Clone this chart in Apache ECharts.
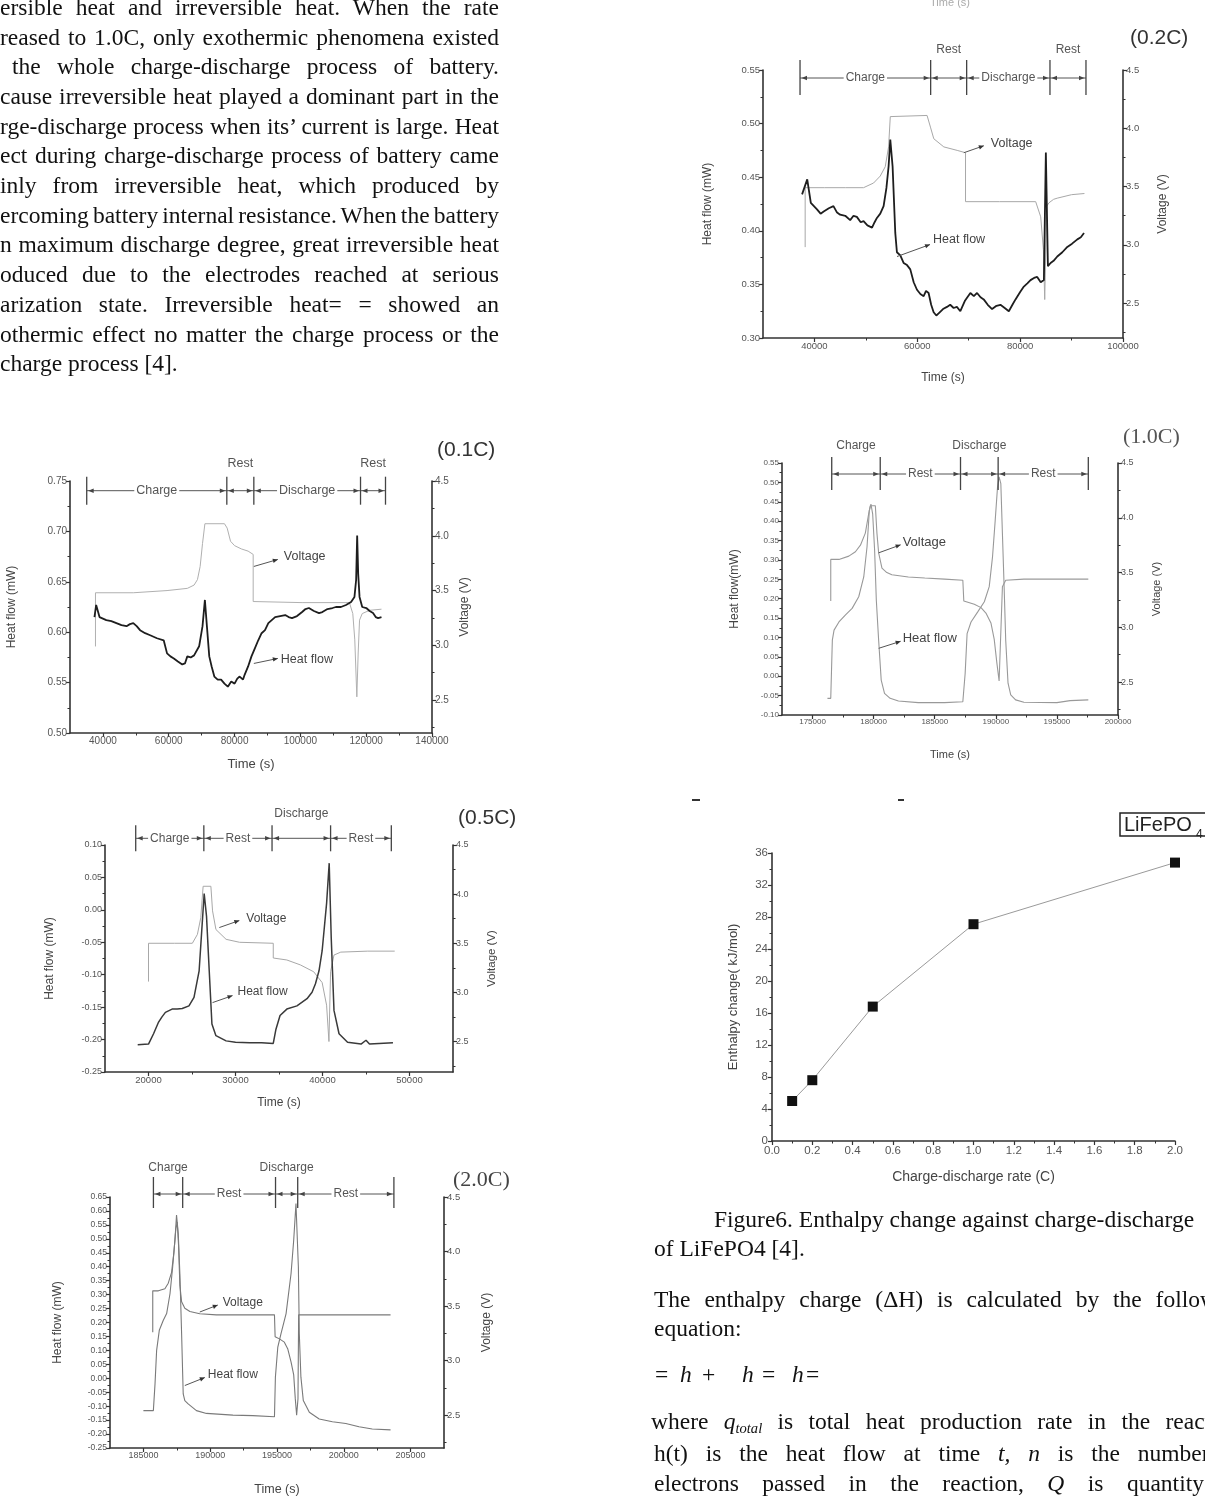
<!DOCTYPE html>
<html>
<head>
<meta charset="utf-8">
<title>Heat flow during charge-discharge and enthalpy change of LiFePO4</title>
<script src="https://cdn.jsdelivr.net/npm/echarts@6.0.0/dist/echarts.min.js"></script>
<style>
html,body{margin:0;padding:0;background:#fff;}
body{width:1205px;height:1497px;overflow:hidden;position:relative;}
#chart{position:absolute;left:0;top:0;width:1205px;height:1497px;}
.ln{position:absolute;white-space:pre;font-family:"Liberation Serif","Times New Roman",serif;font-size:23.5px;line-height:23.5px;color:#111;}
.ln sub{font-size:0.62em;vertical-align:-0.28em;line-height:0;}
</style>
</head>
<body>
<div id="chart"></div>
<script>
// ======================= DATA =======================
// (0.2C)  [time s, value]
const heat02 = [[37600,0.434],[38600,0.448],[39300,0.426],[40500,0.420],[41200,0.416],[41800,0.418],[42800,0.421],[43700,0.423],[44400,0.417],[45000,0.415],[46000,0.414],[46950,0.410],[47600,0.414],[48250,0.413],[49000,0.408],[49550,0.409],[50300,0.405],[51200,0.403],[51700,0.408],[52150,0.412],[52800,0.416],[53450,0.423],[54000,0.440],[54420,0.460],[54750,0.485],[55200,0.460],[55720,0.398],[56040,0.380],[56700,0.377],[57340,0.370],[58000,0.368],[58640,0.364],[59300,0.352],[59940,0.345],[60600,0.341],[61240,0.339],[61700,0.344],[62200,0.342],[62700,0.331],[63180,0.324],[63700,0.321],[64150,0.323],[65000,0.327],[65770,0.329],[66400,0.331],[67070,0.328],[67700,0.329],[68370,0.325],[69300,0.335],[70320,0.342],[71000,0.339],[71620,0.342],[72300,0.338],[72920,0.336],[73700,0.331],[74550,0.327],[75400,0.330],[76170,0.331],[77000,0.328],[77800,0.325],[78500,0.331],[79100,0.336],[80000,0.343],[80720,0.348],[81400,0.351],[82020,0.354],[82700,0.356],[83320,0.357],[84000,0.352],[84620,0.354],[85000,0.473],[85400,0.367],[85920,0.370],[86500,0.372],[87220,0.376],[88200,0.380],[89170,0.385],[90100,0.388],[91120,0.392],[91800,0.394],[92420,0.398]];
const volt02 = [[38200,2.98],[38200,3.49],[42000,3.49],[46000,3.49],[49550,3.49],[51500,3.53],[52800,3.59],[53770,3.67],[54420,3.84],[54750,4.10],[54900,4.11],[61900,4.11],[62560,4.01],[63210,3.91],[65160,3.84],[67760,3.81],[69380,3.79],[69380,3.37],[76000,3.37],[83020,3.37],[84000,3.24],[84520,2.96],[84780,2.53],[85160,3.33],[85600,3.36],[86500,3.39],[87200,3.40],[90000,3.43],[92500,3.44]];
const phase02 = [37200, 62600, 69600, 85800, 92800];
const phaseName02 = ['Charge', 'Rest', 'Discharge', 'Rest'];
const xTick02 = [40000, 60000, 80000, 100000];
const xMinor02 = [50000, 70000, 90000];
const hTick02 = [0.30, 0.35, 0.40, 0.45, 0.50, 0.55];

// (0.1C)
const heat01 = [[37435,0.615],[37950,0.627],[38970,0.615],[41030,0.612],[42560,0.611],[44100,0.609],[45640,0.607],[47180,0.606],[48210,0.608],[49230,0.609],[50260,0.606],[51290,0.602],[52830,0.599],[54360,0.597],[56420,0.594],[58470,0.592],[59490,0.579],[60520,0.576],[61550,0.574],[62780,0.571],[64110,0.568],[64930,0.569],[65650,0.576],[66680,0.575],[67700,0.577],[69240,0.586],[70270,0.606],[70990,0.632],[71600,0.606],[72320,0.576],[73040,0.566],[73860,0.556],[74880,0.553],[75910,0.553],[76940,0.549],[77960,0.546],[78990,0.551],[80010,0.549],[80830,0.554],[81550,0.556],[82580,0.553],[83090,0.558],[84120,0.566],[85140,0.576],[86170,0.584],[87200,0.592],[88220,0.599],[89250,0.602],[90270,0.609],[91300,0.612],[92330,0.615],[93870,0.616],[95400,0.617],[96430,0.615],[97460,0.614],[98990,0.616],[100530,0.620],[101560,0.623],[102590,0.624],[104120,0.621],[105660,0.619],[106690,0.620],[108230,0.623],[109770,0.624],[110790,0.625],[112330,0.625],[113870,0.627],[115410,0.630],[116440,0.635],[116950,0.652],[117260,0.696],[117570,0.658],[117980,0.635],[118800,0.625],[120030,0.624],[121050,0.621],[122080,0.619],[122900,0.615],[123620,0.614],[124650,0.615]];
const volt01 = [[37740,2.99],[37740,3.48],[49230,3.48],[59490,3.50],[65650,3.52],[67700,3.55],[68730,3.60],[69550,3.72],[70270,3.93],[70990,4.11],[76940,4.11],[77760,4.07],[78780,3.95],[80010,3.91],[82070,3.88],[84120,3.86],[85660,3.83],[85660,3.40],[100530,3.39],[114900,3.39],[115930,3.29],[116540,3.05],[117160,2.53],[117570,2.93],[117980,3.23],[118800,3.29],[121050,3.32],[124650,3.33]];
const phase01 = [35080, 77650, 85860, 118280, 125870];
const phaseName01 = ['Charge', 'Rest', 'Discharge', 'Rest'];
const xTick01 = [40000, 60000, 80000, 100000, 120000, 140000];
const xMinor01 = [50000, 70000, 90000, 110000, 130000];
const hTick01 = [0.50, 0.55, 0.60, 0.65, 0.70, 0.75];

// (1.0C)
const heat10 = [[176220,-0.057],[176490,-0.057],[176620,0.093],[176760,0.119],[177160,0.140],[177700,0.158],[178240,0.175],[178780,0.205],[179190,0.256],[179460,0.334],[179650,0.428],[179780,0.444],[179920,0.419],[180080,0.325],[180220,0.196],[180410,0.093],[180620,-0.010],[180890,-0.044],[181350,-0.057],[182030,-0.064],[183650,-0.068],[185810,-0.068],[187300,-0.066],[187490,0.007],[187650,0.110],[187970,0.140],[188520,0.166],[189060,0.192],[189460,0.231],[189730,0.308],[189950,0.402],[190140,0.488],[190270,0.514],[190410,0.497],[190540,0.368],[190680,0.231],[190810,0.093],[191000,-0.018],[191220,-0.048],[191620,-0.061],[192300,-0.067],[195000,-0.068],[196080,-0.063],[197570,-0.061]];
const volt10 = [[176490,3.24],[176490,3.62],[177160,3.62],[177970,3.65],[178510,3.69],[178920,3.75],[179320,3.86],[179600,4.04],[179730,4.11],[180140,4.11],[180270,3.86],[180410,3.68],[180680,3.54],[181080,3.50],[181490,3.48],[182840,3.46],[184190,3.45],[185810,3.44],[187300,3.43],[187380,3.24],[188240,3.21],[188790,3.18],[189190,3.13],[189600,3.04],[189870,2.89],[190080,2.68],[190270,2.51],[190540,3.37],[190810,3.43],[192300,3.44],[195000,3.44],[197570,3.44]];
const phase10 = [176570, 180540, 187110, 190190, 197570];
const phaseName10 = ['Charge', 'Rest', 'Discharge', 'Rest'];
const xTick10 = [175000, 180000, 185000, 190000, 195000, 200000];
const xMinor10 = [177500, 182500, 187500, 192500, 197500];
const hTick10 = [-0.10, -0.05, 0.00, 0.05, 0.10, 0.15, 0.20, 0.25, 0.30, 0.35, 0.40, 0.45, 0.50, 0.55];

// (0.5C)
const heat05 = [[18760,-0.208],[20000,-0.207],[20580,-0.191],[21160,-0.173],[21550,-0.165],[21940,-0.158],[22710,-0.153],[23300,-0.153],[23880,-0.152],[24650,-0.148],[25230,-0.135],[25820,-0.094],[26120,-0.032],[26400,0.025],[26670,-0.010],[26980,-0.094],[27290,-0.176],[27750,-0.194],[28920,-0.202],[30000,-0.204],[31630,-0.205],[33000,-0.205],[34340,-0.206],[34650,-0.184],[35120,-0.163],[35900,-0.153],[37060,-0.148],[38220,-0.137],[38800,-0.127],[39190,-0.114],[39600,-0.094],[39960,-0.063],[40470,0.010],[40770,0.072],[41000,-0.042],[41320,-0.155],[41900,-0.191],[42880,-0.204],[44430,-0.207],[45000,-0.201],[45400,-0.207],[46500,-0.206],[48100,-0.205]];
const volt05 = [[20000,3.11],[20000,3.50],[23000,3.50],[25040,3.50],[25620,3.59],[26010,3.76],[26280,4.08],[27170,4.08],[27360,3.83],[27750,3.64],[28920,3.54],[30470,3.51],[34340,3.50],[34340,3.35],[35900,3.33],[37450,3.28],[38990,3.21],[39960,3.10],[40470,2.87],[40740,2.50],[40930,3.21],[41320,3.38],[42100,3.41],[45200,3.42],[48300,3.42]];
const phase05 = [18530, 26360, 34200, 40930, 47910];
const phaseName05 = ['Charge', 'Rest', 'Discharge', 'Rest'];
const xTick05 = [20000, 30000, 40000, 50000];
const xMinor05 = [25000, 35000, 45000];
const hTick05 = [-0.25, -0.20, -0.15, -0.10, -0.05, 0.00, 0.05, 0.10];

// (2.0C)
const heat20 = [[185000,-0.116],[185745,-0.116],[185870,-0.020],[185990,0.100],[186190,0.172],[186490,0.208],[186740,0.232],[186990,0.303],[187190,0.399],[187360,0.495],[187480,0.585],[187610,0.519],[187730,0.375],[187860,0.160],[187980,-0.056],[188100,-0.080],[188350,-0.092],[188970,-0.116],[189720,-0.126],[191700,-0.132],[193190,-0.134],[194810,-0.138],[194880,0.004],[195060,0.112],[195300,0.160],[195680,0.232],[196050,0.375],[196250,0.495],[196420,0.627],[196500,0.633],[196600,0.399],[196670,0.160],[196790,0.004],[196970,-0.080],[197420,-0.122],[198160,-0.146],[199150,-0.156],[200150,-0.162],[201140,-0.174],[202130,-0.182],[203500,-0.185]];
const volt20 = [[185700,3.26],[185700,3.64],[186120,3.64],[186610,3.66],[186860,3.71],[187110,3.81],[187280,3.99],[187430,4.21],[187530,4.27],[187630,4.06],[187730,3.69],[187860,3.54],[188100,3.48],[188480,3.45],[189220,3.43],[190460,3.42],[194810,3.42],[194860,3.22],[195180,3.20],[195550,3.17],[195800,3.11],[196050,2.99],[196250,2.87],[196370,2.65],[196470,2.50],[196570,2.65],[196620,3.42],[197170,3.42],[203500,3.42]];
const phase20 = [185750, 187940, 194890, 196550, 203750];
const phaseName20 = ['Charge', 'Rest', 'Discharge', 'Rest'];
const xTick20 = [185000, 190000, 195000, 200000, 205000];
const xMinor20 = [187500, 192500, 197500, 202500];
const hTick20 = [-0.25, -0.20, -0.15, -0.10, -0.05, 0.00, 0.05, 0.10, 0.15, 0.20, 0.25, 0.30, 0.35, 0.40, 0.45, 0.50, 0.55, 0.60, 0.65];

// voltage axis ticks (shared)
const vTick = [2.5, 3.0, 3.5, 4.0, 4.5];
const vMinor = [2.25, 2.75, 3.25, 3.75, 4.25];

// Enthalpy change vs rate
const rateC = [0.1, 0.2, 0.5, 1.0, 2.0];
const dH = [5.0, 7.6, 16.8, 27.1, 34.8];
const rateTick = [0, 0.2, 0.4, 0.6, 0.8, 1.0, 1.2, 1.4, 1.6, 1.8, 2.0];
const rateMinor = [0.1, 0.3, 0.5, 0.7, 0.9, 1.1, 1.3, 1.5, 1.7, 1.9];
const dHTick = [0, 4, 8, 12, 16, 20, 24, 28, 32, 36];
const dHMinor = [2, 6, 10, 14, 18, 22, 26, 30, 34];

// ======================= BUILD =======================
const SANS = '"Liberation Sans", Arial, sans-serif';
const SERIF = '"Liberation Serif", "Times New Roman", serif';
const AXC = '#333', LAB = '#555';
function mids(a){ const r=[]; for(let i=0;i<a.length-1;i++) r.push(+((a[i]+a[i+1])/2).toFixed(4)); return r; }
const pairs = (xs, ys) => xs.map((x, i) => [x, ys[i]]);

const grids = [], xAxis = [], yAxis = [], series = [], graphic = [];

function mkAxis(list, gi, pos, s) {
  const idx = list.length;
  const isX = (list === xAxis);
  const base = {type:'value', gridIndex:gi, position:pos, min:s.min, max:s.max, splitLine:{show:false}, splitArea:{show:false}};
  const a = Object.assign({}, base, {
    axisLine:{show:true, onZero:false, lineStyle:{color:AXC, width:1.6}},
    axisTick:{show:true, inside:false, customValues:s.labels, length:4, lineStyle:{color:AXC, width:1.2}},
    axisLabel:{show:true, customValues:s.labels, margin:(s.margin==null?3:s.margin), fontSize:s.fs, fontFamily:SANS, color:LAB,
      formatter: v => s.dec == null ? String(Math.round(v)) : Number(v).toFixed(s.dec)},
    name:s.name, nameLocation:'middle', nameGap:s.gap,
    nameTextStyle:{fontSize:s.nfs, fontFamily:SANS, color:'#444'}
  });
  if (!isX) a.nameRotate = 90;
  list.push(a);
  if (s.minor && s.minor.length) {
    list.push(Object.assign({}, base, {
      axisLine:{show:false, onZero:false}, axisLabel:{show:false},
      axisTick:{show:true, inside:false, customValues:s.minor, length:2.5, lineStyle:{color:AXC, width:1}}
    }));
  }
  return idx;
}

function bracketSeries(xi, yi, c) {
  const segs = [];
  for (let i = 0; i < c.phases.length - 1; i++) segs.push([c.phases[i], c.phases[i + 1]]);
  const b = c.brk, ymax = c.yl.max;
  return {
    type:'custom', xAxisIndex:xi, yAxisIndex:yi, clip:false, silent:true, z:5, animation:false,
    data:segs,
    renderItem(params, api) {
      const i = params.dataIndex;
      const p0 = api.coord([api.value(0), ymax]);
      const p1 = api.coord([api.value(1), ymax]);
      const y = p0[1] + b.dy, x0 = p0[0], x1 = p1[0];
      const col = '#555';
      const ch = [
        {type:'line', shape:{x1:x0, y1:y, x2:x1, y2:y}, style:{stroke:col, lineWidth:1}},
        {type:'line', shape:{x1:x0, y1:y - b.up, x2:x0, y2:y + b.down}, style:{stroke:'#444', lineWidth:1.3}},
        {type:'polygon', shape:{points:[[x0 + 1.5, y], [x0 + 7, y - 2.2], [x0 + 7, y + 2.2]]}, style:{fill:'#444'}},
        {type:'polygon', shape:{points:[[x1 - 1.5, y], [x1 - 7, y - 2.2], [x1 - 7, y + 2.2]]}, style:{fill:'#444'}}
      ];
      if (i === segs.length - 1) ch.push({type:'line', shape:{x1:x1, y1:y - b.up, x2:x1, y2:y + b.down}, style:{stroke:'#444', lineWidth:1.3}});
      const name = c.names[i], mode = c.modes[i];
      if (name) {
        const onLine = mode === 'on';
        ch.push({type:'text', x:(x0 + x1) / 2, y: onLine ? y : y - b.above, z2:10,
          style:{text:name, font: b.fs + 'px ' + SANS, fill:'#555', align:'center', verticalAlign:'middle',
            textAlign:'center', textVerticalAlign:'middle',
            backgroundColor: onLine ? '#fff' : null, padding: onLine ? [0, 2] : 0}});
      }
      return {type:'group', children:ch};
    }
  };
}

function noteSeries(xi, yi, n, fs) {
  return {
    type:'custom', xAxisIndex:xi, yAxisIndex:yi, clip:false, silent:true, z:6, animation:false,
    data:[n.at],
    renderItem(params, api) {
      const p = api.coord([api.value(0), api.value(1)]);
      const ex = p[0] + n.dx, ey = p[1] + n.dy;
      const ang = Math.atan2(ey - p[1], ex - p[0]);
      const bx = ex - 5 * Math.cos(ang), by = ey - 5 * Math.sin(ang);
      const nx = -Math.sin(ang) * 2.2, ny = Math.cos(ang) * 2.2;
      return {type:'group', children:[
        {type:'line', shape:{x1:p[0], y1:p[1], x2:ex, y2:ey}, style:{stroke:'#555', lineWidth:1}},
        {type:'polygon', shape:{points:[[ex, ey], [bx + nx, by + ny], [bx - nx, by - ny]]}, style:{fill:'#333'}},
        {type:'text', x:ex + n.tx, y:ey + n.ty, style:{text:n.text, font: fs + 'px ' + SANS, fill:'#444',
          align:'left', verticalAlign:'middle', textAlign:'left', textVerticalAlign:'middle'}}
      ]};
    }
  };
}

function dualChart(c) {
  const gi = grids.length;
  grids.push(Object.assign({containLabel:false, outerBoundsMode:'none'}, c.grid));
  const xi = mkAxis(xAxis, gi, 'bottom', c.x);
  const yl = mkAxis(yAxis, gi, 'left', c.yl);
  const yr = mkAxis(yAxis, gi, 'right', c.yr);
  series.push({type:'line', name:'Heat flow', xAxisIndex:xi, yAxisIndex:yl, data:c.heat, symbol:'none', showSymbol:false,
    lineStyle:{color:c.hc, width:c.hw}, z:3, silent:true, animation:false, emphasis:{disabled:true}});
  series.push({type:'line', name:'Voltage', xAxisIndex:xi, yAxisIndex:yr, data:c.volt, symbol:'none', showSymbol:false,
    lineStyle:{color:c.vc, width:c.vw}, z:2, silent:true, animation:false, emphasis:{disabled:true}});
  series.push(bracketSeries(xi, yl, c));
  c.notes.forEach(n => series.push(noteSeries(xi, n.axis === 'l' ? yl : yr, n, c.nfs)));
  graphic.push({type:'text', x:c.title.x, y:c.title.y, style:{text:c.title.text, font:c.title.font, fill:c.title.fill,
    verticalAlign:'middle', textVerticalAlign:'middle'}});
}

// ---------------- (0.2C) ----------------
dualChart({
  grid:{left:763, top:70, width:360, height:268},
  x:{min:30000, max:100000, labels:xTick02, minor:xMinor02, fs:9.5, name:'Time (s)', gap:34, nfs:12},
  yl:{min:0.30, max:0.55, labels:hTick02, minor:mids(hTick02), dec:2, fs:9.5, name:'Heat flow (mW)', gap:49, nfs:12},
  yr:{min:2.2, max:4.5, labels:vTick, minor:vMinor, dec:1, fs:9.5, name:'Voltage (V)', gap:34, nfs:12},
  heat:heat02, volt:volt02, hc:'#1e1e1e', hw:1.8, vc:'#a8a8a8', vw:1,
  phases:phase02, names:phaseName02, modes:['on','above','on','above'],
  brk:{dy:8, up:18, down:17, above:28, fs:12},
  notes:[{axis:'r', at:[69050, 3.79], dx:20, dy:-7, tx:7, ty:-2, text:'Voltage'},
         {axis:'l', at:[56060, 0.376], dx:33, dy:-12, tx:3, ty:-5, text:'Heat flow'}],
  nfs:12.5,
  title:{text:'(0.2C)', x:1130, y:38, font:'21px ' + SANS, fill:'#333'}
});

// ---------------- (0.1C) ----------------
dualChart({
  grid:{left:70, top:481, width:362, height:252},
  x:{min:30000, max:140000, labels:xTick01, minor:xMinor01, fs:10, name:'Time (s)', gap:25, nfs:13},
  yl:{min:0.50, max:0.75, labels:hTick01, minor:mids(hTick01), dec:2, fs:10, name:'Heat flow (mW)', gap:52, nfs:12},
  yr:{min:2.2, max:4.5, labels:vTick, minor:vMinor, dec:1, fs:10, name:'Voltage (V)', gap:27, nfs:12},
  heat:heat01, volt:volt01, hc:'#1e1e1e', hw:1.8, vc:'#b0b0b0', vw:1,
  phases:phase01, names:phaseName01, modes:['on','above','on','above'],
  brk:{dy:9.7, up:14, down:14, above:27, fs:12.5},
  notes:[{axis:'r', at:[85860, 3.72], dx:24, dy:-7, tx:6, ty:-3, text:'Voltage'},
         {axis:'l', at:[85860, 0.569], dx:24, dy:-5, tx:3, ty:1, text:'Heat flow'}],
  nfs:12.5,
  title:{text:'(0.1C)', x:437, y:450, font:'21px ' + SANS, fill:'#333'}
});

// ---------------- (1.0C) ----------------
dualChart({
  grid:{left:782, top:463, width:336, height:252},
  x:{min:172500, max:200000, labels:xTick10, minor:xMinor10, fs:8, name:'Time (s)', gap:34, nfs:11},
  yl:{min:-0.10, max:0.55, labels:hTick10, minor:mids(hTick10), dec:2, fs:8, name:'Heat flow(mW)', gap:41, nfs:12},
  yr:{min:2.2, max:4.5, labels:vTick, minor:vMinor, dec:1, fs:9, name:'Voltage (V)', gap:33, nfs:11},
  heat:heat10, volt:volt10, hc:'#999', hw:1.1, vc:'#9a9a9a', vw:1.1,
  phases:phase10, names:phaseName10, modes:['above','on','above','on'],
  brk:{dy:11, up:17, down:16, above:28, fs:12},
  notes:[{axis:'r', at:[180410, 3.68], dx:22, dy:-8, tx:2, ty:-2, text:'Voltage'},
         {axis:'l', at:[180410, 0.072], dx:22, dy:-7, tx:2, ty:-3, text:'Heat flow'}],
  nfs:13,
  title:{text:'(1.0C)', x:1123, y:437, font:'22px ' + SERIF, fill:'#555'}
});

// ---------------- (0.5C) ----------------
dualChart({
  grid:{left:105, top:845, width:348, height:227},
  x:{min:15000, max:55000, labels:xTick05, minor:xMinor05, fs:9.5, name:'Time (s)', gap:25, nfs:12},
  yl:{min:-0.25, max:0.10, labels:hTick05, minor:mids(hTick05), dec:2, fs:9, name:'Heat flow (mW)', gap:49, nfs:12},
  yr:{min:2.19, max:4.5, labels:vTick, minor:vMinor, dec:1, fs:9, name:'Voltage (V)', gap:33, nfs:11.5},
  heat:heat05, volt:volt05, hc:'#3a3a3a', hw:1.5, vc:'#a8a8a8', vw:1,
  phases:phase05, names:phaseName05, modes:['on','on','above','on'],
  brk:{dy:-6.7, up:13, down:13, above:25, fs:12},
  notes:[{axis:'r', at:[28140, 3.66], dx:20, dy:-7, tx:7, ty:-2, text:'Voltage'},
         {axis:'l', at:[27360, -0.143], dx:20, dy:-7, tx:5, ty:-4, text:'Heat flow'}],
  nfs:12,
  title:{text:'(0.5C)', x:458, y:818, font:'21px ' + SANS, fill:'#333'}
});

// ---------------- (2.0C) ----------------
dualChart({
  grid:{left:110, top:1197, width:334, height:251},
  x:{min:182500, max:207500, labels:xTick20, minor:xMinor20, fs:9, name:'Time (s)', gap:35, nfs:12.5},
  yl:{min:-0.25, max:0.65, labels:hTick20, minor:mids(hTick20), dec:2, fs:8.5, name:'Heat flow (mW)', gap:46, nfs:12},
  yr:{min:2.2, max:4.5, labels:vTick, minor:vMinor, dec:1, fs:9.5, name:'Voltage (V)', gap:37, nfs:12},
  heat:heat20, volt:volt20, hc:'#7a7a7a', hw:1.1, vc:'#7a7a7a', vw:1.1,
  phases:phase20, names:phaseName20, modes:['above','on','above','on'],
  brk:{dy:-3, up:17, down:14, above:26, fs:12},
  notes:[{axis:'r', at:[189220, 3.446], dx:18, dy:-7, tx:5, ty:-2, text:'Voltage'},
         {axis:'l', at:[188100, -0.026], dx:20, dy:-8, tx:3, ty:-3, text:'Heat flow'}],
  nfs:12,
  title:{text:'(2.0C)', x:453, y:1180, font:'22px ' + SERIF, fill:'#444'}
});

// ---------------- Enthalpy change vs rate ----------------
(function(){
  const gi = grids.length;
  grids.push({left:772, top:853, width:403, height:288, containLabel:false, outerBoundsMode:'none'});
  const xi = mkAxis(xAxis, gi, 'bottom', {min:0, max:2.0, labels:rateTick, minor:rateMinor, dec:1, fs:11.5, margin:4,
    name:'Charge-discharge rate (C)', gap:29, nfs:14});
  const yi = mkAxis(yAxis, gi, 'left', {min:0, max:36, labels:dHTick, minor:dHMinor, fs:11.5, margin:4,
    name:'Enthalpy change( kJ/mol)', gap:32, nfs:13});
  series.push({type:'line', name:'LiFePO4', xAxisIndex:xi, yAxisIndex:yi, data:pairs(rateC, dH),
    symbol:'rect', symbolSize:10, showSymbol:true, itemStyle:{color:'#111'},
    lineStyle:{color:'#9a9a9a', width:1}, silent:true, animation:false, emphasis:{disabled:true}});
  graphic.push({type:'rect', shape:{x:1120, y:813, width:100, height:23}, style:{fill:'#fff', stroke:'#222', lineWidth:1.5}});
  graphic.push({type:'text', x:1124, y:825, style:{text:'LiFePO', font:'20px ' + SANS, fill:'#222', verticalAlign:'middle', textVerticalAlign:'middle'}});
  graphic.push({type:'text', x:1196, y:835, style:{text:'4', font:'12px ' + SANS, fill:'#222', verticalAlign:'middle', textVerticalAlign:'middle'}});
})();

// scan remnants
graphic.push({type:'text', x:950, y:3, style:{text:'Time (s)', font:'11px ' + SANS, fill:'#aaa', align:'center', textAlign:'center', verticalAlign:'middle', textVerticalAlign:'middle'}});
graphic.push({type:'line', shape:{x1:692, y1:800, x2:700, y2:800}, style:{stroke:'#333', lineWidth:2}});
graphic.push({type:'line', shape:{x1:898, y1:800, x2:904, y2:800}, style:{stroke:'#333', lineWidth:2}});

const chart = echarts.init(document.getElementById('chart'), null, {renderer:'canvas', width:1205, height:1497});
chart.setOption({
  animation:false,
  backgroundColor:'#fff',
  grid:grids, xAxis:xAxis, yAxis:yAxis, series:series,
  graphic:{elements:graphic}
});

// ======================= PROSE =======================
const FS = 23.5;
function placeLine(html, left, base, width) {
  const d = document.createElement('div');
  d.className = 'ln';
  d.innerHTML = html;
  d.style.left = left + 'px';
  d.style.top = (base - 0.8375 * FS) + 'px';
  document.body.appendChild(d);
  if (width) {
    const n = (d.textContent.match(/ /g) || []).length;
    const w = d.getBoundingClientRect().width;
    if (n > 0) d.style.wordSpacing = ((width - w) / n) + 'px';
  }
}
const leftLines = [
  'ersible heat and irreversible heat. When the rate',
  'reased to 1.0C, only exothermic phenomena existed',
  'the whole charge-discharge process of battery.',
  'cause irreversible heat played a dominant part in the',
  'rge-discharge process when its\u2019 current is large. Heat',
  'ect during charge-discharge process of battery came',
  'inly from irreversible heat, which produced by',
  'ercoming battery internal resistance. When the battery',
  'n maximum discharge degree, great irreversible heat',
  'oduced due to the electrodes reached at serious',
  'arization state. Irreversible heat= = showed an',
  'othermic effect no matter the charge process or the',
  'charge process [4].'
];
leftLines.forEach((t, i) => {
  const indent = (i === 2) ? 12 : 0;
  const last = i === leftLines.length - 1;
  placeLine(t, indent, 15.5 + 29.7 * i, last ? 0 : 499 - indent);
});
placeLine('Figure6. Enthalpy change against charge-discharge', 714, 1228, 0);
placeLine('of LiFePO4 [4].', 654, 1257, 0);
placeLine('The enthalpy charge (\u0394H) is calculated by the following', 654, 1308, 593);
placeLine('equation:', 654, 1337, 0);
[['=', 655], ['<i>h</i>', 680], ['+', 702], ['<i>h</i>', 742], ['=', 762], ['<i>h</i>', 792], ['=', 806]]
  .forEach(([t, x]) => placeLine(t, x, 1383, 0));
placeLine('where <i>q<sub>total</sub></i> is total heat production rate in the reaction,', 651, 1430, 596);
placeLine('h(t) is the heat flow at time <i>t,</i> <i>n</i> is the number of', 654, 1462, 593);
placeLine('electrons passed in the reaction, <i>Q</i> is quantity of', 654, 1492, 593);
</script>
</body>
</html>
